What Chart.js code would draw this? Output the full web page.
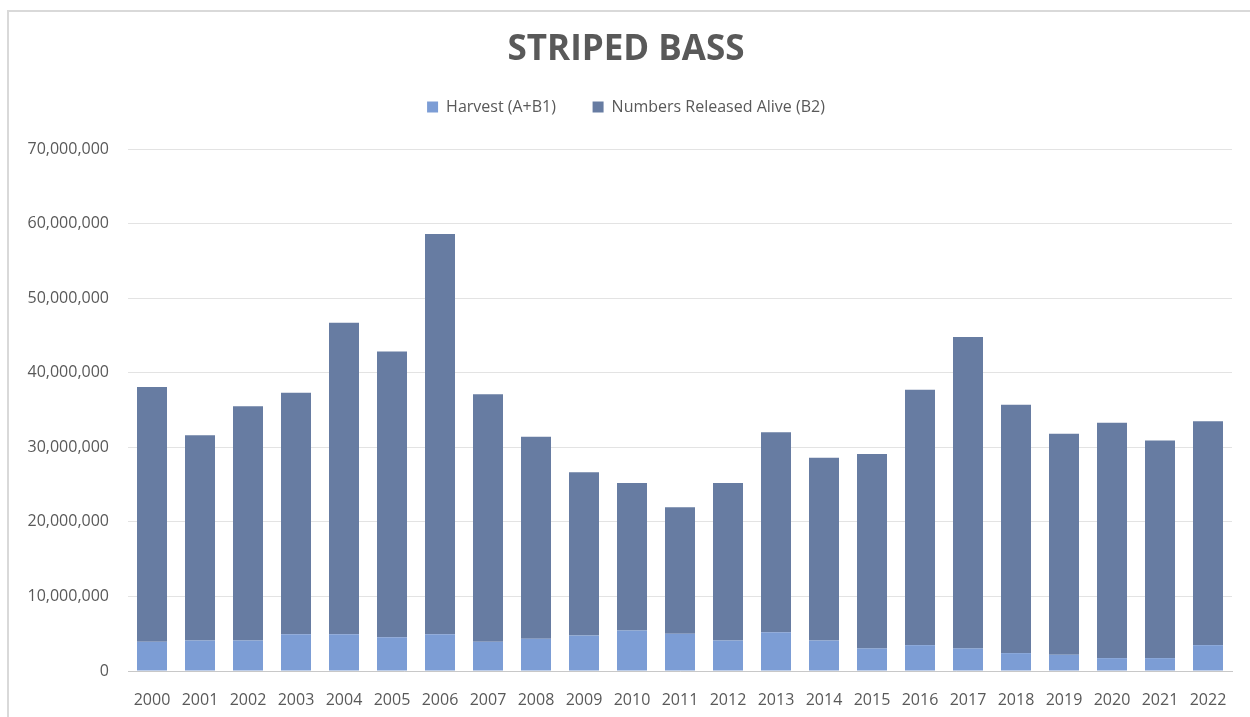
<!DOCTYPE html>
<html>
<head>
<meta charset="utf-8">
<script src="https://cdn.jsdelivr.net/npm/chart.js@4/dist/chart.umd.min.js"></script>
<style>
    html, body { margin: 0; padding: 0; background: #fff; }
    #wrap { position: relative; width: 1250px; height: 717px; overflow: hidden; }
    #frame {
        position: absolute; left: 7px; top: 10px; width: 1300px; height: 800px;
        border-left: 2px solid #d9d9d9; border-top: 2px solid #d9d9d9;
    }
    #chart { position: absolute; left: 0; top: 0; }
</style>
</head>
<body>
<div id="wrap">
    <div id="frame"></div>
    <canvas id="chart" width="1250" height="717"></canvas>
</div>
<script>
const years = ["2000", "2001", "2002", "2003", "2004", "2005", "2006", "2007", "2008", "2009", "2010", "2011",
    "2012", "2013", "2014", "2015", "2016", "2017", "2018", "2019", "2020", "2021", "2022"];

const totalCatch = [38.1, 31.6, 35.5, 37.3, 46.7, 42.85, 58.6, 37.1, 31.4, 26.65, 25.2, 21.95,
    25.2, 32.0, 28.6, 29.1, 37.7, 44.8, 35.7, 31.8, 33.3, 30.9, 33.5];
const harvest = [3.92, 4.09, 4.09, 4.93, 4.93, 4.53, 4.93, 3.92, 4.32, 4.76, 5.43, 4.98,
    4.09, 5.2, 4.09, 3.03, 3.47, 3.03, 2.4, 2.18, 1.73, 1.73, 3.47];
const releasedAlive = totalCatch.map((t, i) => Math.round((t - harvest[i]) * 100) / 100);

const toFish = (arr) => arr.map((v) => Math.round(v * 1000000));

const textColor = "#595959";
const fontFamily = "'Open Sans', sans-serif";

// extra room between the legend and the plot
const legendGap = {
    id: "legendGap",
    beforeInit(chart) {
        const legend = chart.legend;
        if (!legend) return;
        const origFit = legend.fit;
        legend.fit = function () {
            origFit.call(this);
            this.height += 24;
        };
    }
};

new Chart(document.getElementById("chart"), {
    type: "bar",
    data: {
        labels: years,
        datasets: [
            {
                label: "Harvest (A+B1)    ",
                data: toFish(harvest),
                backgroundColor: "#7c9dd5",
                borderWidth: 0,
                categoryPercentage: 1,
                barPercentage: 0.625
            },
            {
                label: "Numbers Released Alive (B2)",
                data: toFish(releasedAlive),
                backgroundColor: "#677ca2",
                borderWidth: 0,
                categoryPercentage: 1,
                barPercentage: 0.625
            }
        ]
    },
    plugins: [legendGap],
    options: {
        responsive: false,
        devicePixelRatio: 1,
        animation: false,
        layout: { padding: { top: 27, left: 20, right: 18, bottom: 0 } },
        plugins: {
            title: {
                display: true,
                text: "STRIPED BASS",
                color: textColor,
                font: { family: fontFamily, size: 35, weight: "bold" },
                padding: { top: 2, bottom: 8 }
            },
            legend: {
                display: true,
                labels: {
                    color: textColor,
                    boxWidth: 11,
                    boxHeight: 11,
                    padding: 20,
                    font: { family: fontFamily, size: 16 }
                }
            },
            tooltip: { enabled: false }
        },
        scales: {
            x: {
                stacked: true,
                grid: { display: false },
                border: { display: true, color: "#c8c8c8", width: 1 },
                ticks: {
                    color: textColor,
                    padding: 12,
                    font: { family: fontFamily, size: 16 }
                },
                afterFit: (scale) => { scale.height = 46; }
            },
            y: {
                stacked: true,
                min: 0,
                max: 70000000,
                grid: { color: "#e3e3e3", lineWidth: 1, drawTicks: false },
                border: { display: false },
                ticks: {
                    stepSize: 10000000,
                    color: textColor,
                    padding: 19,
                    font: { family: fontFamily, size: 16 },
                    callback: (value) => value.toLocaleString("en-US")
                },
                afterFit: (scale) => { scale.width = 108; }
            }
        }
    }
});
</script>
</body>
</html>
